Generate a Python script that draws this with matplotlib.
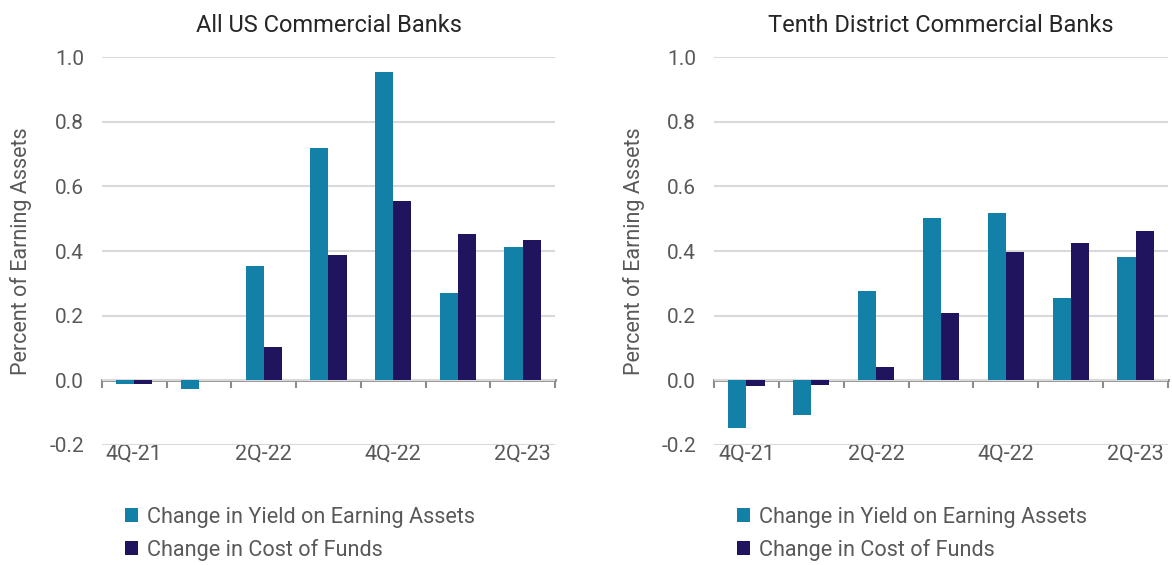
import numpy as np
import matplotlib.pyplot as plt

plt.rcParams['font.family'] = ['Roboto', 'DejaVu Sans']

quarters = ['4Q-21', '1Q-22', '2Q-22', '3Q-22', '4Q-22', '1Q-23', '2Q-23']
shown_labels = ['4Q-21', '', '2Q-22', '', '4Q-22', '', '2Q-23']

# All US commercial banks
us_yield = [-0.010, -0.028, 0.354, 0.720, 0.955, 0.270, 0.411]
us_cost = [-0.012, 0.000, 0.104, 0.387, 0.554, 0.452, 0.435]

# Tenth District commercial banks
td_yield = [-0.146, -0.106, 0.275, 0.501, 0.517, 0.256, 0.381]
td_cost = [-0.016, -0.015, 0.040, 0.208, 0.396, 0.424, 0.463]

titles = ['All US Commercial Banks', 'Tenth District Commercial Banks']
series_names = ['Change in Yield on Earning Assets', 'Change in Cost of Funds']

teal = '#1380a8'
navy = '#21145f'
grey_txt = '#595959'

fig = plt.figure(figsize=(11.72, 5.65), dpi=100)
ax1 = fig.add_axes([0.0870, 0.2124, 0.3865, 0.6867])
ax2 = fig.add_axes([0.6092, 0.2124, 0.3874, 0.6867])

x = np.arange(len(quarters))
w = 0.28
ymin, ymax = -0.2, 1.0

for ax, yld, cst, title in [(ax1, us_yield, us_cost, titles[0]),
                            (ax2, td_yield, td_cost, titles[1])]:
    ax.bar(x - w / 2, yld, w, color=teal, label=series_names[0], zorder=3)
    ax.bar(x + w / 2, cst, w, color=navy, label=series_names[1], zorder=3)
    ax.set_xlim(-0.5, len(quarters) - 0.5)
    ax.set_ylim(ymin, ymax)
    ax.set_yticks(np.arange(-0.2, 1.01, 0.2))
    ax.set_yticklabels(['-0.2', '0.0', '0.2', '0.4', '0.6', '0.8', '1.0'])
    ax.grid(axis='y', color='#d9d9d9', linewidth=1.5, zorder=0)
    ax.set_axisbelow(True)
    for s in ax.spines.values():
        s.set_visible(False)
    ax.tick_params(axis='y', length=0, pad=13, labelsize=15, labelcolor=grey_txt)
    ax.set_xticks(x)
    ax.set_xticklabels(shown_labels)
    ax.tick_params(axis='x', length=0, pad=-1, labelsize=15.5, labelcolor=grey_txt)
    ax.set_ylabel('Percent of Earning Assets', fontsize=15.5, color=grey_txt, labelpad=12)
    ax.set_title(title, fontsize=17, color='#262626', pad=18)

    # zero line with category separators
    zero_frac = (0 - ymin) / (ymax - ymin)
    sec = ax.secondary_xaxis(zero_frac)
    sec.spines['bottom'].set_color('#8c8c8c')
    sec.spines['bottom'].set_linewidth(2)
    sec.set_xticks(np.arange(-0.5, len(quarters), 1.0))
    sec.set_xticklabels([])
    sec.tick_params(axis='x', direction='out', length=6, width=1.5, color='#8c8c8c')

    ax.legend(loc='upper left', bbox_to_anchor=(0.032, -0.137), frameon=False,
              fontsize=15.6, labelcolor=grey_txt, handlelength=0.6, handleheight=0.6,
              handletextpad=0.4, labelspacing=0.5, borderaxespad=0)

fig.savefig('out.png', dpi=100)
